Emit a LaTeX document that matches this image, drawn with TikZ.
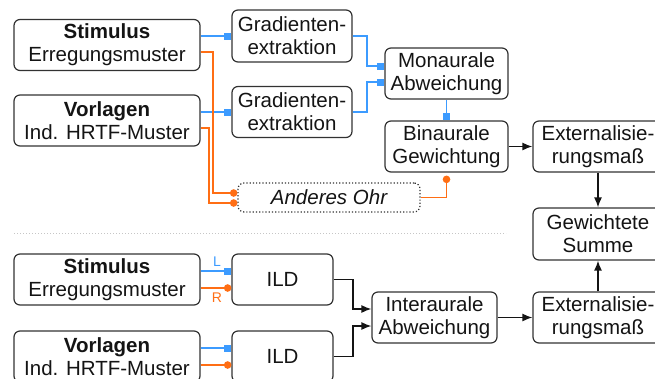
\documentclass[tikz,border=0pt]{standalone}
\usepackage{fontspec}
\setmainfont{Liberation Sans}
\usetikzlibrary{arrows.meta,calc}
\definecolor{cblue}{RGB}{60,155,255}
\definecolor{corange}{RGB}{255,110,20}
\definecolor{cframe}{RGB}{50,50,50}
\definecolor{ctext}{RGB}{20,20,20}
\begin{document}
\begin{tikzpicture}[x=1pt,y=-1pt,
  box/.style={draw=cframe,line width=1.2pt,rounded corners=6pt,inner sep=0pt,align=center,
    text=ctext,font=\fontsize{20.5}{23}\selectfont},
  dbox/.style={box,dotted},
  bl/.style={draw=cblue,line width=1.5pt,-{Square[length=7pt,width=7pt]}},
  bln/.style={draw=cblue,line width=1.5pt},
  or/.style={draw=corange,line width=1.5pt,-{Circle[length=7.5pt]}},
  ar/.style={draw=ctext,line width=1.4pt,-{Latex[length=10pt,width=8pt]}},
  lab/.style={font=\fontsize{14}{16}\selectfont,inner sep=0pt}
]
\useasboundingbox (0,0) rectangle (655,378);
\clip (0,0) rectangle (655,378);
% top block
\node[box,minimum width=186pt,minimum height=51pt] (s1) at (107,45) {\textbf{Stimulus}\\Erregungsmuster};
\node[box,minimum width=186pt,minimum height=51pt] (v1) at (107,120.5) {\textbf{Vorlagen}\\Ind. HRTF-Muster};
\node[box,minimum width=120pt,minimum height=52pt] (g1) at (292,36) {Gradienten-\\extraktion};
\node[box,minimum width=120pt,minimum height=51pt] (g2) at (292,112) {Gradienten-\\extraktion};
\node[box,minimum width=123pt,minimum height=51pt] (mon) at (446.5,73.5) {Monaurale\\Abweichung};
\node[box,minimum width=123pt,minimum height=51pt] (bin) at (446.5,146.5) {Binaurale\\Gewichtung};
\node[box,minimum width=130pt,minimum height=51pt] (ext1) at (598,146.5) {Externalisie-\\rungsmaß};
\node[box,minimum width=130pt,minimum height=52pt] (gs) at (598,234) {Gewichtete\\Summe};
\node[dbox,minimum width=182pt,minimum height=29pt] (ao) at (329,197.5) {\itshape Anderes Ohr};
% separator
\draw[gray!45,line width=1pt,dotted] (14,233) -- (506,233);
% bottom block
\node[box,minimum width=186pt,minimum height=51pt] (s2) at (107,279.5) {\textbf{Stimulus}\\Erregungsmuster};
\node[box,minimum width=186pt,minimum height=51pt] (v2) at (107,356.5) {\textbf{Vorlagen}\\Ind. HRTF-Muster};
\node[box,minimum width=101pt,minimum height=51pt] (ild1) at (282.5,279.5) {ILD};
\node[box,minimum width=101pt,minimum height=51pt] (ild2) at (282.5,356.5) {ILD};
\node[box,minimum width=125pt,minimum height=51pt] (ia) at (434.5,317.5) {Interaurale\\Abweichung};
\node[box,minimum width=130pt,minimum height=51pt] (ext2) at (598,317.5) {Externalisie-\\rungsmaß};
% top connectors
\draw[bl] (s1.east |- g1.west) -- (g1.west);
\draw[bl] (v1.east |- g2.west) -- (g2.west);
\draw[bl] (g1.east) -- (367,36) |- ($(mon.west)+(0,-7.5)$);
\draw[bl] (g2.east) -- (367,112) |- ($(mon.west)+(0,8.5)$);
\draw[bl] (mon.south) -- (bin.north);
\draw[or] ($(s1.east)+(0,7)$) -- (213,52) |- ($(ao.west)+(0,-4.5)$);
\draw[or] ($(v1.east)+(0,7.5)$) -- (209,128) |- ($(ao.west)+(0,5.5)$);
\draw[or] (ao.east) -| ($(bin.south)+(0,3)$);
\draw[ar] (bin.east) -- (ext1.west);
\draw[ar] (ext1.south) -- (gs.north);
% bottom connectors
\draw[bl] ($(s2.east)+(0,-8.5)$) -- ($(ild1.west)+(0,-8.5)$);
\draw[or] ($(s2.east)+(0,8.5)$) -- ($(ild1.west)+(0,8.5)$);
\node[lab,text=cblue] (lL) at (217,262) {L};
\node[lab,text=corange] (lR) at (217,298) {R};
\draw[bl] ($(v2.east)+(0,-8.5)$) -- ($(ild2.west)+(0,-8.5)$);
\draw[or] ($(v2.east)+(0,8.5)$) -- ($(ild2.west)+(0,8.5)$);
\draw[ar] (ild1.east) -- (353,279.5) |- ($(ia.west)+(0,-8.5)$);
\draw[ar] (ild2.east) -- (353,356.5) |- ($(ia.west)+(0,8.5)$);
\draw[ar] (ia.east) -- (ext2.west);
\draw[ar] (ext2.north) -- (gs.south);
\end{tikzpicture}
\end{document}
